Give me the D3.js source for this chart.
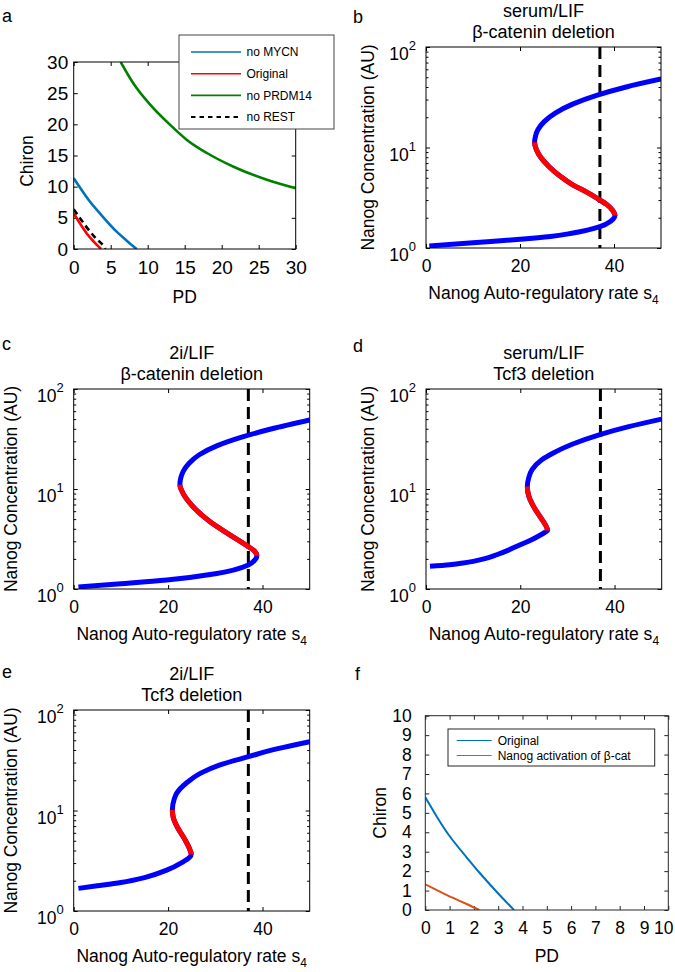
<!DOCTYPE html>
<html><head><meta charset="utf-8">
<script src="https://cdn.jsdelivr.net/npm/d3@7"></script>
<style>
body{margin:0;background:#fff}
svg{display:block}
text{font-family:"Liberation Sans",Arial,sans-serif;fill:#000}
</style>
</head><body>
<svg id="chart" width="675" height="972"></svg>
<script>
// ---------------- DATA ----------------
// Panel a: PD vs Chiron boundaries
const aTicks = [0, 5, 10, 15, 20, 25, 30];
const a_noMYCN   = [[0,11.35],[1,9.6],[2,7.9],[3.55,5.7],[5.8,2.78],[7.2,1.3],[8.5,0]];
const a_original = [[0,5.7],[0.9,4.0],[1.76,2.5],[2.7,1.2],[3.7,0]];
const a_noPRDM14 = [[6.35,30],[8.05,26.6],[10.3,23.2],[13.5,19.4],[15.3,17.5],[18,15.4],[21.6,13.2],[26.1,11.1],[30,9.74]];
const a_noREST   = [[0,6.37],[1,4.7],[2,3.1],[3,1.7],[4.1,0.37],[4.3,0]];
const aLegend = ["no MYCN", "Original", "no PRDM14", "no REST"];

// Panels b-e: bifurcation curves [s4, Nanog], each branch ordered by increasing Nanog
const s4Ticks = [0, 20, 40];
const logMajor = [1, 10, 100];
const logMinor = [2,3,4,5,6,7,8,9,20,30,40,50,60,70,80,90];
const s4Marker = 37;

const b_lower    = [[0.7,1.05],[10,1.13],[20,1.22],[26.5,1.3],[31,1.40],[37,1.63],[39.3,1.85],[40.2,2.1]];
const b_unstable = [[40.2,2.1],[39.6,2.4],[38.5,2.7],[37,3.0],[34.2,3.6],[31.3,4.23],[28.5,5.2],[26.2,6.44],[24.4,8],[23.5,9.5],[23.1,11.3]];
const b_upper    = [[23.1,11.3],[23.3,13],[23.8,15],[25.1,18],[27.5,22],[31.2,27],[36.3,33],[42.6,40],[50,48]];

const c_lower    = [[1,1.05],[10,1.13],[19.7,1.23],[30,1.42],[37,1.74],[38.4,1.95],[38.8,2.14]];
const c_unstable = [[38.8,2.14],[38.3,2.4],[37,2.65],[33,3.5],[28.9,4.7],[25.3,6.65],[23.2,9],[22.5,11]];
const c_upper    = [[22.5,11],[22.7,13],[23.2,15],[24.4,18],[26.6,22],[30.3,27],[35.6,33],[42,40],[50,49]];

const d_lower    = [[0.85,1.69],[5,1.75],[7.5,1.81],[10,1.89],[12.5,2.01],[15,2.2],[17.5,2.45],[20,2.77],[22.5,3.13],[24.2,3.45],[25.3,3.7],[25.8,3.85]];
const d_unstable = [[25.8,3.85],[25.3,4.4],[24.3,5.2],[22.8,6.7],[21.8,8.5],[21.5,10.6]];
const d_upper    = [[21.5,10.6],[21.8,13],[22.5,15.6],[24.5,19.5],[27,22.9],[31,28],[36.9,35],[43,42],[50,50]];

const e_lower    = [[1,1.68],[5,1.78],[10,1.92],[15,2.15],[19.7,2.55],[23,3.05],[24.5,3.4],[24.9,3.65]];
const e_unstable = [[24.9,3.65],[24.4,4.3],[23.6,5.1],[21.9,6.9],[21.1,8.5],[20.9,10.1]];
const e_upper    = [[20.9,10.1],[21.3,13],[21.8,14.8],[24,19],[26.8,23.4],[31,28.5],[37,34.3],[43,41],[50,48.4]];

const titles = {
  b: ["serum/LIF", "β-catenin deletion"],
  c: ["2i/LIF", "β-catenin deletion"],
  d: ["serum/LIF", "Tcf3 deletion"],
  e: ["2i/LIF", "Tcf3 deletion"]
};

// Panel f
const fTicks = [0,1,2,3,4,5,6,7,8,9,10];
const f_original  = [[0,5.8],[0.5,4.75],[1.02,3.77],[1.6,2.86],[2.25,1.89],[3,0.85],[3.65,0]];
const f_nanogAct  = [[0,1.32],[0.6,0.95],[1.15,0.62],[1.7,0.31],[2.22,0]];
const fLegend = ["Original", "Nanog activation of β-cat"];

// ---------------- DRAWING ----------------
const svg = d3.select("#chart");
const FS = 17.5;
let clipN = 0;

function makeClip(x, y, w, h) {
  const id = "clip" + (clipN++);
  svg.append("clipPath").attr("id", id).append("rect")
    .attr("x", x).attr("y", y).attr("width", w).attr("height", h);
  return "url(#" + id + ")";
}
function plotClip(L) { return makeClip(L.l, L.t, L.r - L.l, L.b - L.t); }

function styleAxis(sel, color, fs) {
  sel.select(".domain").remove();
  sel.selectAll("line").attr("stroke", color);
  sel.selectAll("text").attr("font-size", fs || FS).attr("font-family", '"Liberation Sans",Arial,sans-serif').attr("fill", color);
}

function linAxes(L, x, y, xt, yt, color, yPad, fs) {
  const g = svg.append("g");
  const bx = g.append("g").attr("transform", `translate(0,${L.b})`)
    .call(d3.axisBottom(x).tickValues(xt).tickSizeInner(-4).tickSizeOuter(0).tickPadding(11.5))
    .call(s => styleAxis(s, color, fs));
  g.append("g").attr("transform", `translate(0,${L.t})`)
    .call(d3.axisTop(x).tickValues(xt).tickSizeInner(-4).tickSizeOuter(0).tickFormat(() => ""))
    .call(s => styleAxis(s, color, fs));
  g.append("g").attr("transform", `translate(${L.l},0)`)
    .call(d3.axisLeft(y).tickValues(yt).tickSizeInner(-4).tickSizeOuter(0).tickPadding(yPad))
    .call(s => styleAxis(s, color, fs));
  g.append("g").attr("transform", `translate(${L.r},0)`)
    .call(d3.axisRight(y).tickValues(yt).tickSizeInner(-4).tickSizeOuter(0).tickFormat(() => ""))
    .call(s => styleAxis(s, color, fs));
  return bx;
}

function frame(L, color) {
  svg.append("rect").attr("x", L.l).attr("y", L.t).attr("width", L.r - L.l).attr("height", L.b - L.t)
    .attr("fill", "none").attr("stroke", color).attr("stroke-width", 1);
}

function letter(t, x, y) {
  svg.append("text").attr("x", x).attr("y", y).attr("font-size", 18).text(t);
}

function yLabel(text, x, y, color) {
  svg.append("text").attr("transform", `translate(${x},${y}) rotate(-90)`)
    .attr("text-anchor", "middle").attr("font-size", FS).attr("fill", color || "#000").text(text);
}

// ---- Panel a ----
(function () {
  const L = {l: 73.7, r: 295.7, t: 62, b: 249};
  const x = d3.scaleLinear().domain([0, 30]).range([L.l, L.r]);
  const y = d3.scaleLinear().domain([0, 30]).range([L.b, L.t]);
  linAxes(L, x, y, aTicks, aTicks, "#000", 5.5, 19);
  const clip = plotClip(L);
  const line = d3.line().x(d => x(d[0])).y(d => y(d[1])).curve(d3.curveMonotoneX);
  const series = [
    {d: a_noMYCN, c: "#0072BD", dash: null},
    {d: a_original, c: "#FF0000", dash: null},
    {d: a_noPRDM14, c: "#008000", dash: null},
    {d: a_noREST, c: "#000", dash: "6,4"}
  ];
  series.forEach(s => {
    svg.append("path").attr("d", line(s.d)).attr("fill", "none").attr("stroke", s.c)
      .attr("stroke-width", 2.6).attr("stroke-dasharray", s.dash).attr("clip-path", clip);
  });
  frame(L, "#000");
  const lg = svg.append("g");
  lg.append("rect").attr("x", 179).attr("y", 35).attr("width", 155).attr("height", 94)
    .attr("fill", "#fff").attr("stroke", "#444").attr("stroke-width", 1);
  aLegend.forEach((name, i) => {
    const yy = 52 + i * 21.7;
    lg.append("line").attr("x1", 191).attr("x2", 241).attr("y1", yy).attr("y2", yy)
      .attr("stroke", series[i].c).attr("stroke-width", series[i].dash ? 2 : 1.6)
      .attr("stroke-dasharray", series[i].dash ? "4.5,4" : null);
    lg.append("text").attr("x", 246.5).attr("y", yy + 4.3).attr("font-size", 12).text(name);
  });
  svg.append("text").attr("x", x(15)).attr("y", 303).attr("text-anchor", "middle").attr("font-size", FS).text("PD");
  yLabel("Chiron", 33, 161);
  letter("a", 2, 22);
})();

// ---- Panels b-e ----
function sPanel(L, key, lower, unstable, upper, ylx) {
  const x = d3.scaleLinear().domain([0, 50]).range([L.l, L.r]);
  const y = d3.scaleLog().domain([1, 100]).range([L.b, L.t]);
  const g = svg.append("g");
  g.append("g").attr("transform", `translate(0,${L.b})`)
    .call(d3.axisBottom(x).tickValues(s4Ticks).tickSizeInner(-4).tickSizeOuter(0).tickPadding(12))
    .call(s => styleAxis(s, "#000"));
  g.append("g").attr("transform", `translate(0,${L.t})`)
    .call(d3.axisTop(x).tickValues(s4Ticks).tickSizeInner(-4).tickSizeOuter(0).tickFormat(() => ""))
    .call(s => styleAxis(s, "#000"));
  [[d3.axisLeft, L.l], [d3.axisRight, L.r]].forEach(([ax, pos]) => {
    g.append("g").attr("transform", `translate(${pos},0)`)
      .call(ax(y).tickValues(logMajor).tickSizeInner(-4).tickSizeOuter(0).tickFormat(() => ""))
      .call(s => styleAxis(s, "#000"));
    g.append("g").attr("transform", `translate(${pos},0)`)
      .call(ax(y).tickValues(logMinor).tickSizeInner(-2.5).tickSizeOuter(0).tickFormat(() => ""))
      .call(s => styleAxis(s, "#000"));
  });
  logMajor.forEach(v => {
    const t = g.append("text").attr("x", L.l - 10).attr("y", y(v) + 13)
      .attr("text-anchor", "end").attr("font-size", FS).text("10");
    t.append("tspan").attr("dy", -10).attr("font-size", 13).text(String(Math.round(Math.log10(v))));
  });
  const clip = plotClip(L);
  svg.append("line").attr("x1", x(s4Marker)).attr("x2", x(s4Marker)).attr("y1", L.t).attr("y2", L.b)
    .attr("stroke", "#000").attr("stroke-width", 3).attr("stroke-dasharray", "12,6");
  const full = lower.concat(unstable.slice(1), upper.slice(1)).slice().reverse();
  const line = d3.line().x(d => x(d[0])).y(d => y(d[1])).curve(d3.curveMonotoneY);
  const dPath = line(full);
  svg.append("path").attr("d", dPath).attr("fill", "none").attr("stroke", "#0000FF")
    .attr("stroke-width", 5).attr("clip-path", clip);
  const nLo = d3.min(unstable, d => d[1]), nHi = d3.max(unstable, d => d[1]);
  const redClip = makeClip(L.l, y(nHi), L.r - L.l, y(nLo) - y(nHi));
  svg.append("path").attr("d", dPath).attr("fill", "none").attr("stroke", "#FF0000")
    .attr("stroke-width", 5).attr("clip-path", redClip);
  frame(L, "#000");
  const cx = (L.l + L.r) / 2;
  svg.append("text").attr("x", cx).attr("y", L.t - 30).attr("text-anchor", "middle").attr("font-size", 18).text(titles[key][0]);
  svg.append("text").attr("x", cx).attr("y", L.t - 9).attr("text-anchor", "middle").attr("font-size", 18).text(titles[key][1]);
  const xl = svg.append("text").attr("x", cx).attr("y", L.b + 51).attr("text-anchor", "middle").attr("font-size", FS)
    .text("Nanog Auto-regulatory rate s");
  xl.append("tspan").attr("dy", 5).attr("font-size", 12).text("4");
  yLabel("Nanog Concentration (AU)", ylx, (L.t + L.b) / 2);
}

sPanel({l: 426, r: 661, t: 47, b: 248}, "b", b_lower, b_unstable, b_upper, 374);
letter("b", 353, 23);
sPanel({l: 73.7, r: 309.7, t: 389, b: 589}, "c", c_lower, c_unstable, c_upper, 16.5);
letter("c", 2, 350);
sPanel({l: 426, r: 661.7, t: 389, b: 589}, "d", d_lower, d_unstable, d_upper, 374);
letter("d", 353, 352);
sPanel({l: 73.7, r: 309.7, t: 710, b: 911}, "e", e_lower, e_unstable, e_upper, 16.5);
letter("e", 2, 678);

// ---- Panel f ----
(function () {
  const L = {l: 425.3, r: 668.3, t: 715.7, b: 910};
  const col = "#262626";
  const x = d3.scaleLinear().domain([0, 10]).range([L.l, L.r]);
  const y = d3.scaleLinear().domain([0, 10]).range([L.b, L.t]);
  const bx = linAxes(L, x, y, fTicks, fTicks, col, 13.5);
  bx.selectAll(".tick text").filter(d => d === 10).attr("dx", -5);
  const clip = plotClip(L);
  const line = d3.line().x(d => x(d[0])).y(d => y(d[1])).curve(d3.curveNatural);
  const series = [{d: f_original, c: "#0072BD"}, {d: f_nanogAct, c: "#D95319"}];
  series.forEach(s => {
    svg.append("path").attr("d", line(s.d)).attr("fill", "none").attr("stroke", s.c)
      .attr("stroke-width", 2).attr("clip-path", clip);
  });
  frame(L, col);
  const lg = svg.append("g");
  lg.append("rect").attr("x", 448).attr("y", 729).attr("width", 206.7).attr("height", 37)
    .attr("fill", "#fff").attr("stroke", col).attr("stroke-width", 1);
  fLegend.forEach((name, i) => {
    const yy = 740.5 + i * 15;
    lg.append("line").attr("x1", 456.7).attr("x2", 491.7).attr("y1", yy).attr("y2", yy)
      .attr("stroke", series[i].c).attr("stroke-width", 1);
    lg.append("text").attr("x", 497.7).attr("y", yy + 4.3).attr("font-size", 12).attr("fill", col).text(name);
  });
  svg.append("text").attr("x", x(5)).attr("y", 961.5).attr("text-anchor", "middle").attr("font-size", FS).attr("fill", col).text("PD");
  yLabel("Chiron", 386, (L.t + L.b) / 2, col);
  letter("f", 355, 680);
})();
</script>
</body></html>
